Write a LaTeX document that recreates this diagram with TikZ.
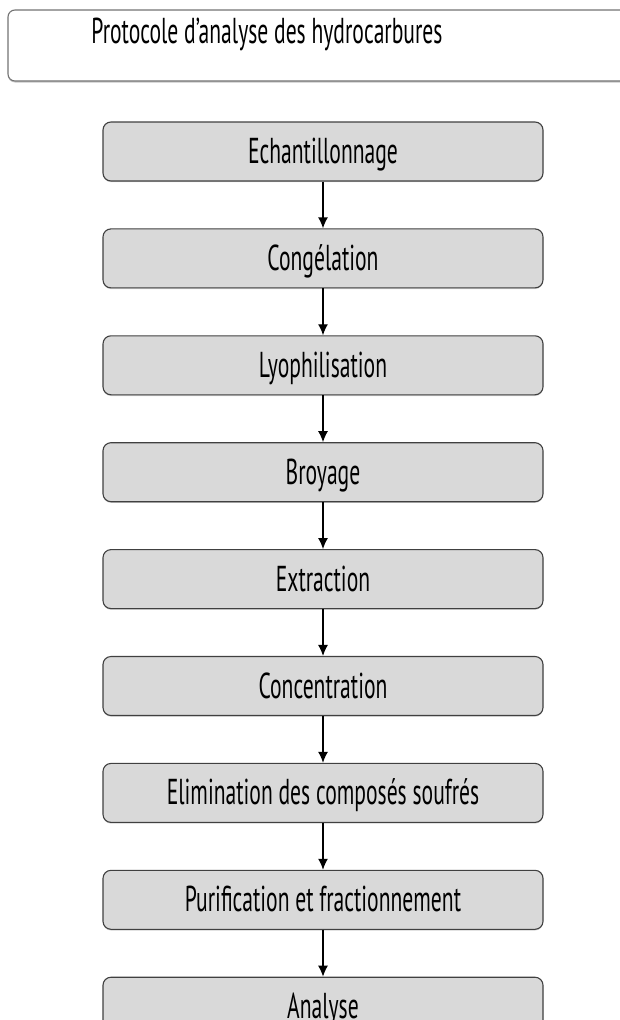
\documentclass[tikz,border=0pt]{standalone}
\usepackage{fontspec}
\setmainfont{PT Sans}[FakeStretch=0.6]
\usetikzlibrary{positioning,arrows.meta,shadows}

\tikzset{
  stepbox/.style={draw=black!75, fill=black!15, line width=1.1pt,
    rounded corners=8pt, minimum width=440pt, minimum height=59pt,
    inner sep=0pt, text height=24pt, text depth=0pt,
    font=\fontsize{36}{42}\selectfont,
    drop shadow={shadow xshift=0pt, shadow yshift=-1.2pt, opacity=.35}},
  flow/.style={-{Latex[length=11pt,width=10pt]}, line width=1.3pt, black}
}

\begin{document}
\begin{tikzpicture}[x=1pt,y=-1pt]
\useasboundingbox (0,0) rectangle (619,1020);

% title frame
\draw[draw=black!55, line width=1.1pt, rounded corners=7pt,
  drop shadow={shadow xshift=0pt, shadow yshift=-1.5pt, opacity=.45}, fill=white]
  (8,10) rectangle (640,81);
\node[inner sep=0pt, text height=24pt, text depth=0pt,
  font=\fontsize{36}{42}\selectfont] (title) at (267,31) {Protocole d’analyse des hydrocarbures};

% steps
\node[stepbox] (echant) at (323,151.5) {Echantillonnage};
\node[stepbox, below=46.8pt of echant] (congel) {Congélation};
\node[stepbox, below=46.8pt of congel] (lyoph) {Lyophilisation};
\node[stepbox, below=46.8pt of lyoph] (broy) {Broyage};
\node[stepbox, below=46.8pt of broy] (extr) {Extraction};
\node[stepbox, below=46.8pt of extr] (conc) {Concentration};
\node[stepbox, below=46.8pt of conc] (elim) {Elimination des composés soufrés};
\node[stepbox, below=46.8pt of elim] (purif) {Purification et fractionnement};
\node[stepbox, below=46.8pt of purif] (anal) {Analyse};

\draw[flow] (echant) -- (congel);
\draw[flow] (congel) -- (lyoph);
\draw[flow] (lyoph) -- (broy);
\draw[flow] (broy) -- (extr);
\draw[flow] (extr) -- (conc);
\draw[flow] (conc) -- (elim);
\draw[flow] (elim) -- (purif);
\draw[flow] (purif) -- (anal);
\end{tikzpicture}
\end{document}
